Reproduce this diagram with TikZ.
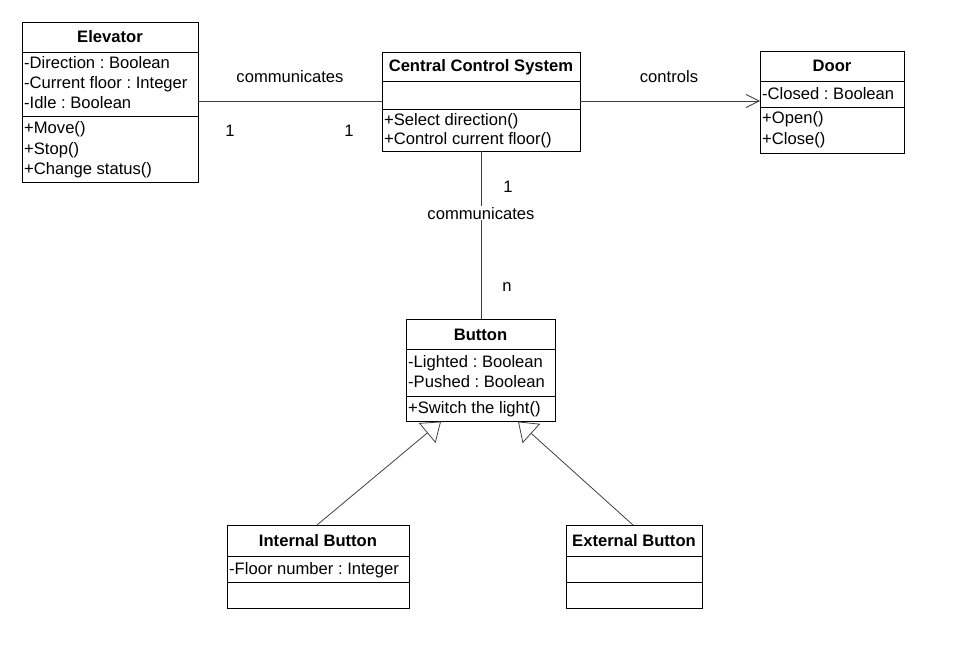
\documentclass[tikz,border=0pt]{standalone}
\usepackage{fontspec}
\setmainfont{Liberation Sans}
\usetikzlibrary{arrows.meta}
\frenchspacing
\tikzset{
  classbox/.style={draw, line width=1pt, inner sep=0pt, anchor=north west},
  divider/.style={line width=1pt},
  title/.style={font=\fontsize{16.6}{20}\selectfont\bfseries, inner sep=0pt, anchor=base},
  member/.style={font=\fontsize{16.6}{20}\selectfont, inner sep=0pt, anchor=base west},
  lbl/.style={font=\fontsize{16.6}{20}\selectfont, inner sep=0pt, anchor=base},
  conn/.style={line width=0.8pt, draw=black!75},
  genarrow/.style={-{Triangle[open, length=18pt, width=26pt, line width=0.8pt]}},
}
\begin{document}
\begin{tikzpicture}[x=1pt,y=-1pt]
\useasboundingbox (0,0) rectangle (966,658);
% Elevator
\node[classbox, minimum width=176pt, minimum height=160pt] (elev) at (22,22) {};
\draw[divider] (22,53) -- (198,53);
\draw[divider] (22,117) -- (198,117);
\node[title] (elevT) at (110,43) {Elevator};
\node[member] (e1) at (24,69) {-Direction : Boolean};
\node[member] (e2) at (24,89) {-Current floor : Integer};
\node[member] (e3) at (24,109) {-Idle : Boolean};
\node[member] (e4) at (24,134) {+Move()};
\node[member] (e5) at (24,154) {+Stop()};
\node[member] (e6) at (24,174) {+Change status()};
% Central Control System
\node[classbox, minimum width=198pt, minimum height=99pt] (ccs) at (382,52) {};
\draw[divider] (382,82) -- (580,82);
\draw[divider] (382,110) -- (580,110);
\node[title] (ccsT) at (481,72) {Central Control System};
\node[member] (c1) at (384,125) {+Select direction()};
\node[member] (c2) at (384,144) {+Control current floor()};
% Door
\node[classbox, minimum width=144pt, minimum height=102pt] (door) at (760,51) {};
\draw[divider] (760,82) -- (904,82);
\draw[divider] (760,108) -- (904,108);
\node[title] (doorT) at (832,72) {Door};
\node[member] (d1) at (762,100) {-Closed : Boolean};
\node[member] (d2) at (762,124) {+Open()};
\node[member] (d3) at (762,144) {+Close()};
% Button
\node[classbox, minimum width=149pt, minimum height=102pt] (btn) at (406,319) {};
\draw[divider] (406,349) -- (555,349);
\draw[divider] (406,396) -- (555,396);
\node[title] (btnT) at (480.5,340) {Button};
\node[member] (b1) at (408,367) {-Lighted : Boolean};
\node[member] (b2) at (408,387) {-Pushed : Boolean};
\node[member] (b3) at (408,413) {+Switch the light()};
% Internal Button
\node[classbox, minimum width=182pt, minimum height=83pt] (ib) at (227,525) {};
\draw[divider] (227,556) -- (409,556);
\draw[divider] (227,582) -- (409,582);
\node[title] (ibT) at (318,546) {Internal Button};
\node[member] (i1) at (229,574) {-Floor number : Integer};
% External Button
\node[classbox, minimum width=136pt, minimum height=83pt] (eb) at (566,525) {};
\draw[divider] (566,556) -- (702,556);
\draw[divider] (566,582) -- (702,582);
\node[title] (ebT) at (634,546) {External Button};
% connectors
\coordinate (elevR) at (198,101);
\coordinate (ccsL) at (382,101);
\coordinate (ccsR) at (580,101);
\coordinate (doorL) at (760,101);
\coordinate (ccsB) at (481,151);
\coordinate (btnT2) at (481,319);
\coordinate (btnBL) at (441,421.5);
\coordinate (btnBR) at (518,421.5);
\coordinate (ibTop) at (317,525);
\coordinate (ebTop) at (633,525);
\draw[conn] (elevR) -- (ccsL);
\draw[conn, -{Straight Barb[length=13pt, width=13pt, line width=0.8pt]}] (ccsR) -- (doorL);
\draw[conn] (ccsB) -- (btnT2);
\draw[conn, genarrow] (ibTop) -- (btnBL);
\draw[conn, genarrow] (ebTop) -- (btnBR);
% labels
\node[lbl] (l1) at (290,83) {communicates};
\node[lbl] (l2) at (230,136) {1};
\node[lbl] (l3) at (349,136) {1};
\node[lbl] (l4) at (669,83) {controls};
\node[lbl] (l5) at (508,192) {1};
\node[lbl, fill=white, inner sep=1pt] (l6) at (481,219) {communicates};
\node[lbl] (l7) at (507,291) {n};
\end{tikzpicture}
\end{document}
